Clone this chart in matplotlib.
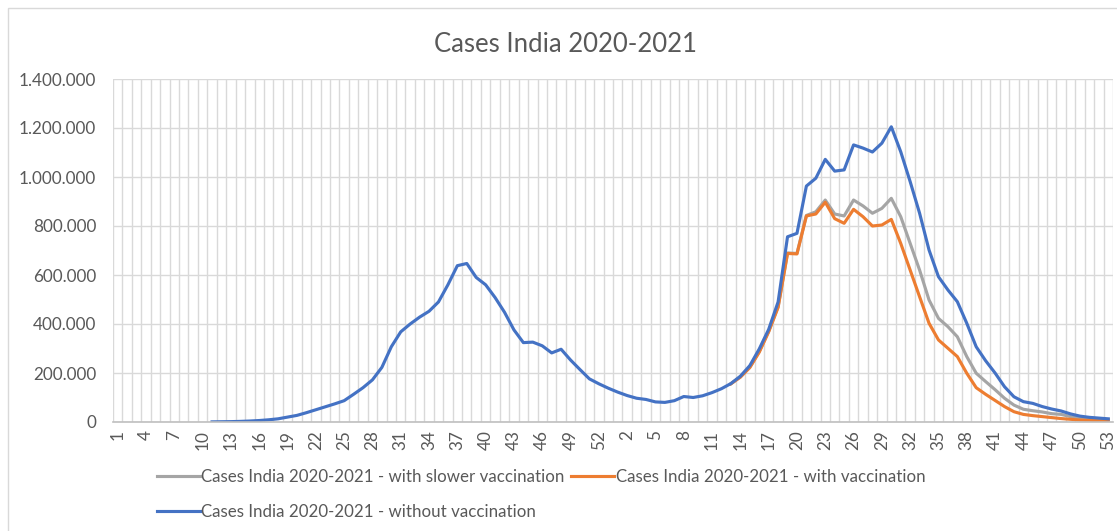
import numpy as np
import matplotlib
matplotlib.use("Agg")
import matplotlib.pyplot as plt
from matplotlib.ticker import FuncFormatter, FixedLocator, MultipleLocator
from matplotlib.patches import Rectangle

# weekly categories: 2020 weeks 1-53, then 2021 weeks 1-53
weeks_2020 = list(range(1, 54))
weeks_2021 = list(range(1, 54))
week_labels = [str(w) for w in weeks_2020] + [str(w) for w in weeks_2021]

nan = np.nan

# without vaccination
blue_2020 = [nan] * 10 + [
    500, 1000, 1500, 2500, 4000, 6000, 9000, 13000, 20000, 27000,
    38000, 50000, 62000, 74000, 87000, 113000, 140000, 172000, 223000, 307000,
    368000, 400000, 428000, 452000, 490000, 560000, 638000, 647000, 590000, 560000,
    508000, 448000, 376000, 324000, 326000, 311000, 282000, 297000, 253000, 214000,
    176000, 156000, 138000]
blue_2021 = [
    122000, 108000, 97000, 92000, 82000, 80000, 87000, 104000, 100000, 107000,
    120000, 136000, 157000, 187000, 230000, 298000, 378000, 490000, 756000, 770000,
    963000, 995000, 1072000, 1024000, 1029000, 1131000, 1118000, 1102000, 1138000, 1205000,
    1103000, 981000, 852000, 702000, 593000, 539000, 491000, 403000, 307000, 250000,
    200000, 144000, 103000, 83000, 76000, 63000, 53000, 45000, 33000, 24000,
    19000, 16000, 13000]

# with vaccination (2021 only, from week 13)
orange_2021 = [nan] * 12 + [
    156000, 183000, 222000, 285000, 368000, 468000, 688000, 686000,
    841000, 849000, 897000, 830000, 811000, 868000, 838000, 800000, 804000, 827000,
    729000, 620000, 511000, 403000, 335000, 301000, 267000, 199000, 140000, 113000,
    88000, 63000, 42000, 31000, 26000, 22000, 18000, 14000, 11000, 8000,
    7000, 5000, 5000]

# with slower vaccination
gray_2021 = [nan] * 12 + [
    156000, 184000, 224000, 287000, 370000, 470000, 690000, 688000,
    843000, 858000, 906000, 849000, 841000, 906000, 882000, 852000, 872000, 913000,
    838000, 729000, 620000, 498000, 423000, 389000, 348000, 267000, 199000, 165000,
    132000, 97000, 69000, 52000, 46000, 41000, 34000, 31000, 22000, 16000,
    12000, 11000, 9000]

blue = np.array(blue_2020 + blue_2021, dtype=float)
orange = np.array([nan] * 53 + orange_2021, dtype=float)
gray = np.array([nan] * 53 + gray_2021, dtype=float)
x = np.arange(len(week_labels))

plt.rcParams['font.family'] = ['Lato', 'DejaVu Sans']
txt = '#595959'

fig = plt.figure(figsize=(11.17, 5.31), dpi=100)
fig.patches.append(Rectangle((8 / 1117, -0.1), 1.2, 1.1 - 8 / 531, transform=fig.transFigure,
                             fill=False, edgecolor='#D9D9D9', linewidth=1.0))

ax = fig.add_axes([113 / 1117, 1 - 422 / 531, 1000 / 1117, 343 / 531])

l1, = ax.plot(x, gray, color='#A5A5A5', lw=2.25, label='Cases India 2020-2021 - with slower vaccination')
l2, = ax.plot(x, orange, color='#ED7D31', lw=2.25, label='Cases India 2020-2021 - with vaccination')
l3, = ax.plot(x, blue, color='#4472C4', lw=2.25, label='Cases India 2020-2021 - without vaccination')

ax.set_xlim(-0.5, len(x) - 0.5)
ax.set_ylim(0, 1400000)
ax.yaxis.set_major_locator(MultipleLocator(200000))
ax.yaxis.set_major_formatter(FuncFormatter(lambda v, p: f"{v:,.0f}".replace(",", ".")))

ax.set_xticks(x[::3])
ax.set_xticklabels(week_labels[::3], rotation=90)
ax.xaxis.set_minor_locator(FixedLocator(np.arange(-0.5, len(x), 1.0)))
ax.grid(which='minor', axis='x', color='#D9D9D9', lw=1.0)
ax.grid(which='major', axis='y', color='#D9D9D9', lw=1.0)
ax.grid(which='major', axis='x', visible=False)
ax.set_axisbelow(True)
ax.tick_params(axis='both', which='both', length=0, colors=txt, labelsize=12.3)
ax.tick_params(axis='x', pad=6)
ax.tick_params(axis='y', pad=12)
for s in ['top', 'right', 'left']:
    ax.spines[s].set_visible(False)
ax.spines['bottom'].set_color('#BFBFBF')
ax.spines['bottom'].set_linewidth(1.2)

fig.text(565 / 1117, 1 - 45 / 531, 'Cases India 2020-2021', ha='center', va='center',
         fontsize=18.5, color=txt)

fig.legend(handles=[l1, l3, l2], loc='upper left', ncol=2, frameon=False,
           bbox_to_anchor=(142 / 1117, 1 - 454 / 531), fontsize=12.2,
           handlelength=2.5, handletextpad=0.1, columnspacing=0.4,
           labelspacing=1.1, labelcolor=txt)

fig.savefig('out.png', dpi=100)
